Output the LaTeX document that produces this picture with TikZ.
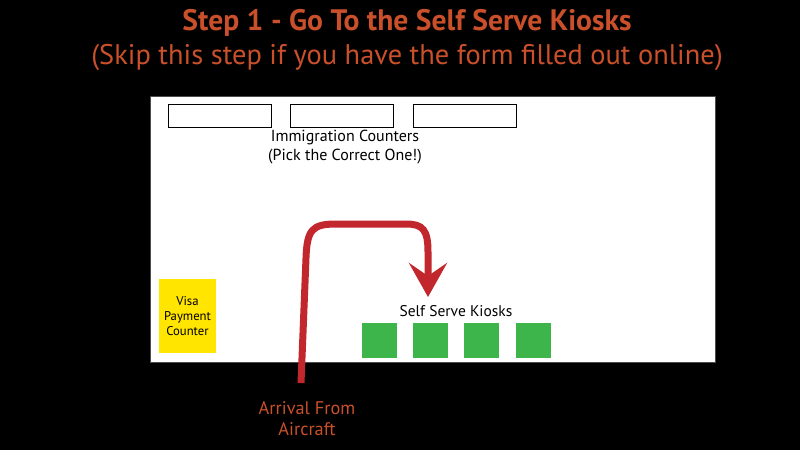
\documentclass[tikz,border=0pt]{standalone}
\usepackage{fontspec}
\setmainfont{PT Sans}
\usetikzlibrary{arrows.meta}
\definecolor{titleorange}{HTML}{C9502A}
\definecolor{pathred}{HTML}{C1272D}
\definecolor{kioskgreen}{HTML}{3DB54A}
\definecolor{visayellow}{HTML}{FFE500}
\tikzset{
  counter/.style={draw=black,fill=white,line width=1pt,minimum width=103pt,minimum height=23pt,inner sep=0pt},
  kiosk/.style={fill=kioskgreen,minimum width=35pt,minimum height=35pt,inner sep=0pt},
  label/.style={font=\fontsize{16}{19}\selectfont,align=center,text=black},
}
\begin{document}
\begin{tikzpicture}[x=1pt,y=-1pt]
    % Hintergrund und Halle.
    \fill[black] (0,0) rectangle (800,450);
    \useasboundingbox (0,0) rectangle (800,450);
    \draw[fill=white,draw=black!70,line width=1pt] (150,96) rectangle (715,362);

    % Titel.
    \node[font=\fontsize{29.6}{32}\bfseries\selectfont,text=titleorange] (title) at (407,23)
        {Step 1 - Go To the Self Serve Kiosks};
    \node[font=\fontsize{28.4}{30}\selectfont,text=titleorange] (subtitle) at (407,58)
        {(Skip this step if you have the form filled out online)};

    % Einreiseschalter.
    \node[counter] (counterA) at (219.5,115.5) {};
    \node[counter] (counterB) at (341.5,115.5) {};
    \node[counter] (counterC) at (464.5,115.5) {};
    \node[label] (counterlabel) at (345,147)
        {Immigration Counters\\(Pick the Correct One!)};

    % Visa-Schalter.
    \node[fill=visayellow,minimum width=57pt,minimum height=74pt,inner sep=0pt,
        font=\fontsize{12.7}{15}\selectfont,align=center] (visa) at (187.5,316)
        {Visa\\Payment\\Counter};

    % Kioske.
    \node[kiosk] (kioskA) at (379.5,340.5) {};
    \node[kiosk] (kioskB) at (430.5,340.5) {};
    \node[kiosk] (kioskC) at (481.5,340.5) {};
    \node[kiosk] (kioskD) at (533.5,340.5) {};
    \node[label,font=\fontsize{15.5}{19}\selectfont] (kiosklabel) at (456,311) {Self Serve Kiosks};

    % Weg vom Flugzeug.
    \coordinate (arrival) at (301,383);
    \coordinate (goal) at (428,297);
    \draw[pathred,line width=7pt,-{Stealth[length=34pt,width=38pt,inset=13pt]}]
        (arrival) -- (306,258) .. controls (307,230) and (312,224) .. (336,224)
        -- (406,224) .. controls (423,224) and (428,230) .. (428,252) -- (goal);
    \node[font=\fontsize{18.3}{21}\selectfont,text=titleorange,align=center] (arrivallabel)
        at (307,419) {Arrival From\\Aircraft};
\end{tikzpicture}
\end{document}
